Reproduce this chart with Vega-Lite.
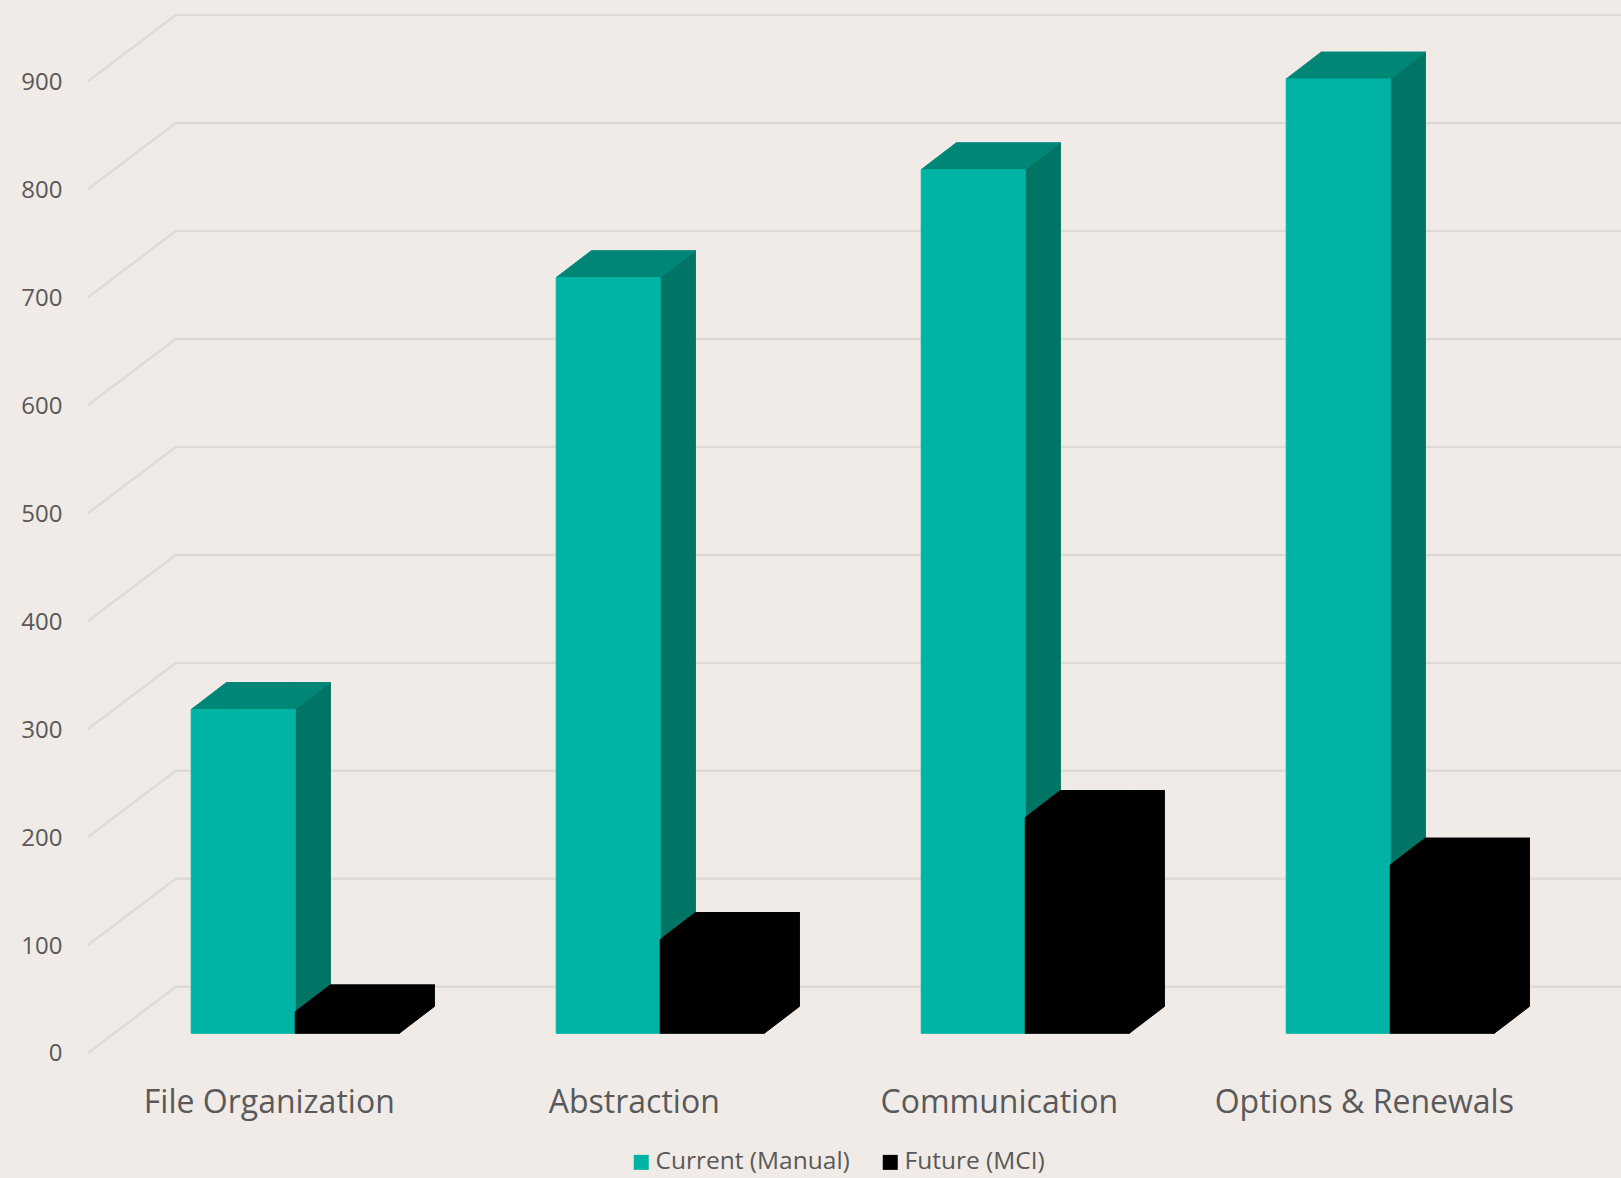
{
  "$schema": "https://vega.github.io/schema/vega-lite/v6.json",
  "width": 1533,
  "height": 1075,
  "padding": {"left": 88, "top": 0, "right": 0, "bottom": 103},
  "autosize": {"type": "none"},
  "background": "#F0EBE7",
  "view": {"stroke": null},
  "datasets": {
    "bars": [
      {"task": "File Organization", "series": "Current (Manual)", "value": 300},
      {"task": "File Organization", "series": "Future (MCI)", "value": 20},
      {"task": "Abstraction", "series": "Current (Manual)", "value": 700},
      {"task": "Abstraction", "series": "Future (MCI)", "value": 87},
      {"task": "Communication", "series": "Current (Manual)", "value": 800},
      {"task": "Communication", "series": "Future (MCI)", "value": 200},
      {"task": "Options & Renewals", "series": "Current (Manual)", "value": 884},
      {"task": "Options & Renewals", "series": "Future (MCI)", "value": 156}
    ],
    "ticks": [
      {"tick": 0}, {"tick": 100}, {"tick": 200}, {"tick": 300}, {"tick": 400},
      {"tick": 500}, {"tick": 600}, {"tick": 700}, {"tick": 800}, {"tick": 900}
    ]
  },
  "params": [
    {"name": "barWidth", "expr": "0.285"},
    {"name": "depthX", "expr": "0.0963"},
    {"name": "depthY", "expr": "24.9"},
    {"name": "floorY", "expr": "18.2"}
  ],
  "layer": [
    {
      "description": "Back wall and floor gridlines, projected from the front plane",
      "data": {"name": "ticks"},
      "transform": [
        {"calculate": "[-0.4953, -0.255, 3.7047]", "as": "gx"},
        {"calculate": "[datum.tick, datum.tick + 61.3, datum.tick + 61.3]", "as": "gy"},
        {"flatten": ["gx", "gy"]}
      ],
      "mark": {"type": "line", "stroke": "#DEDAD6", "strokeWidth": 2.5, "clip": true},
      "encoding": {
        "x": {
          "field": "gx", "type": "quantitative",
          "scale": {"domain": [-0.4953, 3.7047], "nice": false, "zero": false},
          "axis": {
            "values": [0, 1, 2, 3],
            "labelExpr": "['File Organization', 'Abstraction', 'Communication', 'Options & Renewals'][datum.value]",
            "title": null, "domain": false, "ticks": false, "grid": false,
            "labelFont": "Open Sans", "labelFontSize": 32, "labelColor": "#595959", "labelLimit": 0,
            "labelPadding": 27, "labelBaseline": "middle", "labelAngle": 0, "labelFlush": false, "labelOverlap": false
          }
        },
        "y": {
          "field": "gy", "type": "quantitative",
          "scale": {"domain": [-20.4, 975.3], "nice": false, "zero": false},
          "axis": {
            "values": [0, 100, 200, 300, 400, 500, 600, 700, 800, 900],
            "title": null, "domain": false, "ticks": false, "grid": false,
            "labelFont": "Open Sans", "labelFontSize": 24, "labelColor": "#595959", "labelPadding": 26, "labelOffset": 1
          }
        },
        "detail": {"field": "tick", "type": "nominal"}
      }
    },
    {
      "description": "Side faces of the bars",
      "data": {"name": "bars"},
      "transform": [
        {"calculate": "indexof(['File Organization', 'Abstraction', 'Communication', 'Options & Renewals'], datum.task)", "as": "k"},
        {"calculate": "datum.k - 0.2125 + (datum.series === 'Future (MCI)' ? barWidth : 0) + barWidth", "as": "right"},
        {"calculate": "[datum.right, datum.right + depthX]", "as": "fx"},
        {"calculate": "[floorY + datum.value, floorY + datum.value + depthY]", "as": "ftop"},
        {"calculate": "[floorY, floorY + depthY]", "as": "fbase"},
        {"flatten": ["fx", "ftop", "fbase"]}
      ],
      "mark": {"type": "area", "orient": "vertical", "strokeWidth": 1},
      "encoding": {
        "x": {"field": "fx", "type": "quantitative"},
        "y": {"field": "ftop", "type": "quantitative", "stack": null},
        "y2": {"field": "fbase"},
        "detail": {"field": "task", "type": "nominal"},
        "color": {
          "field": "series", "type": "nominal",
          "scale": {"domain": ["Current (Manual)", "Future (MCI)"], "range": ["#007566", "#000000"]},
          "legend": null
        },
        "stroke": {
          "field": "series", "type": "nominal",
          "scale": {"domain": ["Current (Manual)", "Future (MCI)"], "range": ["#007566", "#000000"]},
          "legend": null
        }
      }
    },
    {
      "description": "Top faces of the bars",
      "data": {"name": "bars"},
      "transform": [
        {"calculate": "indexof(['File Organization', 'Abstraction', 'Communication', 'Options & Renewals'], datum.task)", "as": "k"},
        {"calculate": "datum.k - 0.2125 + (datum.series === 'Future (MCI)' ? barWidth : 0)", "as": "left"},
        {"calculate": "[datum.left, datum.left + depthX, datum.left + barWidth, datum.left + barWidth + depthX]", "as": "fx"},
        {"calculate": "[floorY + datum.value, floorY + datum.value + depthY, floorY + datum.value + depthY, floorY + datum.value + depthY]", "as": "ftop"},
        {"calculate": "[floorY + datum.value, floorY + datum.value, floorY + datum.value, floorY + datum.value + depthY]", "as": "fbase"},
        {"flatten": ["fx", "ftop", "fbase"]}
      ],
      "mark": {"type": "area", "orient": "vertical", "strokeWidth": 1},
      "encoding": {
        "x": {"field": "fx", "type": "quantitative"},
        "y": {"field": "ftop", "type": "quantitative", "stack": null},
        "y2": {"field": "fbase"},
        "detail": {"field": "task", "type": "nominal"},
        "color": {
          "field": "series", "type": "nominal",
          "scale": {"domain": ["Current (Manual)", "Future (MCI)"], "range": ["#008677", "#000000"]},
          "legend": null
        },
        "stroke": {
          "field": "series", "type": "nominal",
          "scale": {"domain": ["Current (Manual)", "Future (MCI)"], "range": ["#008677", "#000000"]},
          "legend": null
        }
      }
    },
    {
      "description": "Front faces of the bars, which also carry the legend",
      "data": {"name": "bars"},
      "transform": [
        {"calculate": "indexof(['File Organization', 'Abstraction', 'Communication', 'Options & Renewals'], datum.task)", "as": "k"},
        {"calculate": "datum.k - 0.2125 + (datum.series === 'Future (MCI)' ? barWidth : 0)", "as": "left"},
        {"calculate": "datum.left + barWidth", "as": "right"},
        {"calculate": "floorY + datum.value", "as": "ftop"},
        {"calculate": "floorY", "as": "fbase"}
      ],
      "mark": {"type": "rect", "strokeWidth": 1},
      "encoding": {
        "x": {"field": "left", "type": "quantitative"},
        "x2": {"field": "right"},
        "y": {"field": "ftop", "type": "quantitative"},
        "y2": {"field": "fbase"},
        "stroke": {
          "field": "series", "type": "nominal",
          "scale": {"domain": ["Current (Manual)", "Future (MCI)"], "range": ["#00B4A5", "#000000"]},
          "legend": null
        },
        "color": {
          "field": "series", "type": "nominal",
          "scale": {"domain": ["Current (Manual)", "Future (MCI)"], "range": ["#00B4A5", "#000000"]},
          "legend": {
            "orient": "none", "legendX": 541, "legendY": 1150, "direction": "horizontal",
            "title": null, "padding": 0, "symbolType": "square", "symbolSize": 225,
            "symbolStrokeWidth": 0, "symbolOpacity": 1, "columnPadding": 28, "labelOffset": 2,
            "labelFont": "Open Sans", "labelFontSize": 24.5, "labelColor": "#595959", "labelLimit": 0
          }
        }
      }
    }
  ],
  "resolve": {"scale": {"color": "independent", "stroke": "independent"}}
}
